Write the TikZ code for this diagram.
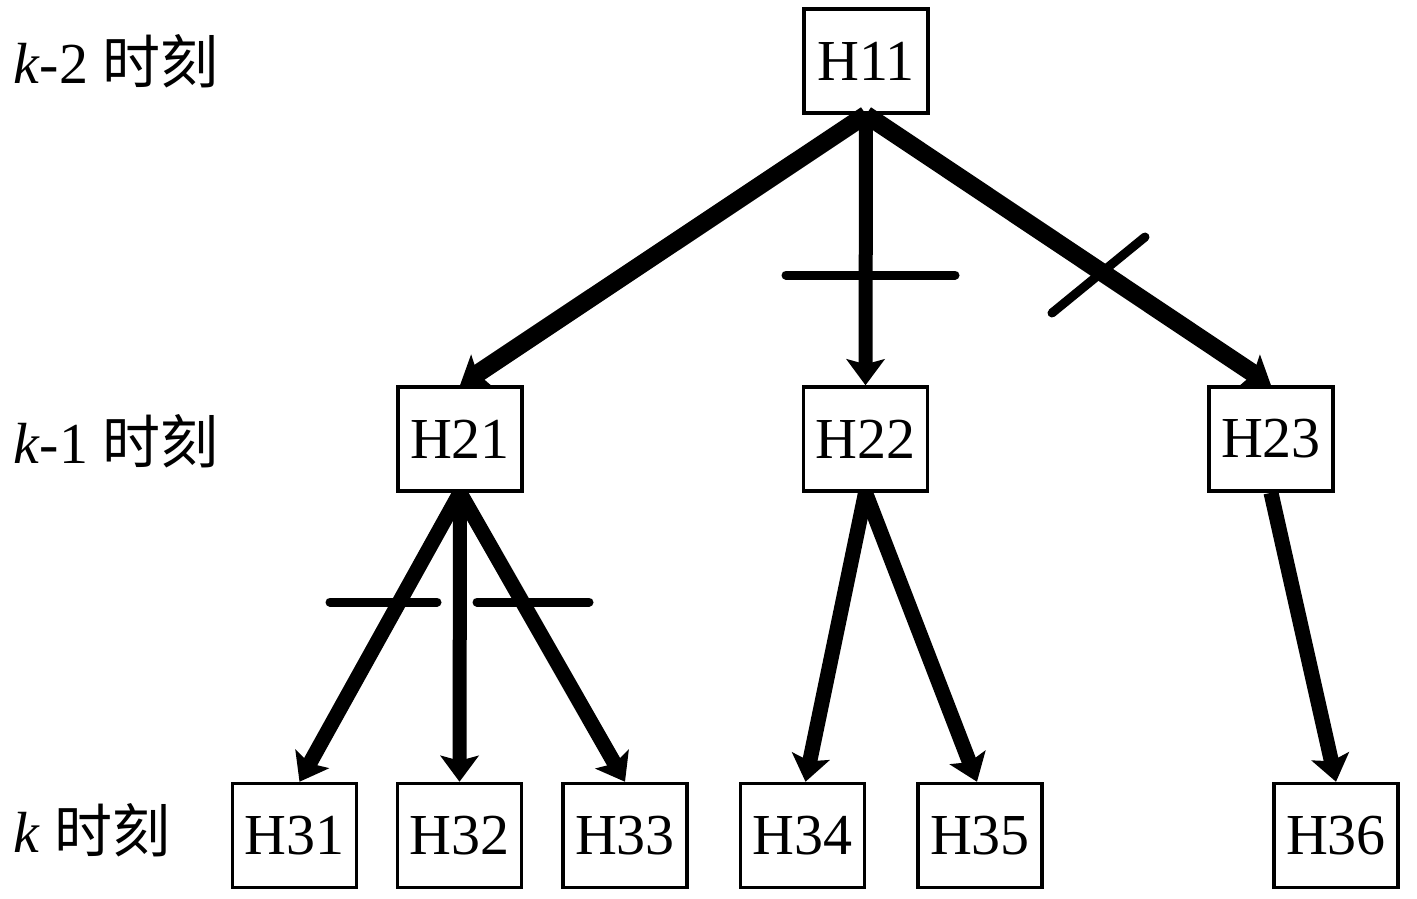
\documentclass[tikz,border=0pt]{standalone}
\usepackage{fontspec}
\setmainfont{Liberation Serif}
\newfontfamily\cjk{Noto Sans CJK SC}
\usetikzlibrary{arrows.meta}
\begin{document}
\begin{tikzpicture}[x=1pt,y=-1pt,
  hbox/.style={draw, line width=3.5pt, minimum width=124pt, minimum height=104pt,
    inner sep=0pt, font=\fontsize{58}{60}\selectfont},
  arr/.style={line width=15pt, -{Stealth[length=26pt,width=38pt,inset=5pt]}},
  arrthick/.style={arr, line width=18pt},
  arrmid/.style={arr, line width=14pt},
  cutmark/.style={line width=9pt, line cap=round},
  lab/.style={anchor=base west, inner sep=0pt, font=\fontsize{58}{60}\selectfont}]
\useasboundingbox (0,0) rectangle (1417,898);
% level labels
\node[lab] (L1) at (13,83) {\textit{k}-2 {\cjk 时刻}};
\node[lab] (L2) at (13,463) {\textit{k}-1 {\cjk 时刻}};
\node[lab] (L3) at (13,852) {\textit{k} {\cjk 时刻}};
% nodes
\node[hbox] (H11) at (866,61) {H11};
\node[hbox] (H21) at (460,439) {H21};
\node[hbox] (H22) at (865.5,439) {H22};
\node[hbox] (H23) at (1271,439) {H23};
\node[hbox] (H31) at (294.5,835.5) {H31};
\node[hbox] (H32) at (459.5,835.5) {H32};
\node[hbox] (H33) at (625,835.5) {H33};
\node[hbox] (H34) at (802.5,835.5) {H34};
\node[hbox] (H35) at (980,835.5) {H35};
\node[hbox] (H36) at (1336,835.5) {H36};
% connectors
\draw[arrthick] (H11.south) -- (H21.north);
\draw[arrmid] (H11.south) -- (H22.north);
\draw[arrthick] (H11.south) -- (H23.north);
\draw[arr] (H21.south) -- ([xshift=5pt]H31.north);
\draw[arrmid] (H21.south) -- (H32.north);
\draw[arr] (H21.south) -- (H33.north);
\draw[arr] (H22.south) -- ([xshift=3pt]H34.north);
\draw[arr] (H22.south) -- ([xshift=-3pt]H35.north);
\draw[arr] (H23.south) -- (H36.north);
% cut marks
\draw[cutmark] (786,275) -- (955,275);
\draw[cutmark] (1052,313) -- (1145,237);
\draw[cutmark] (330,602) -- (437,602);
\draw[cutmark] (477,602) -- (589,602);
\end{tikzpicture}
\end{document}
